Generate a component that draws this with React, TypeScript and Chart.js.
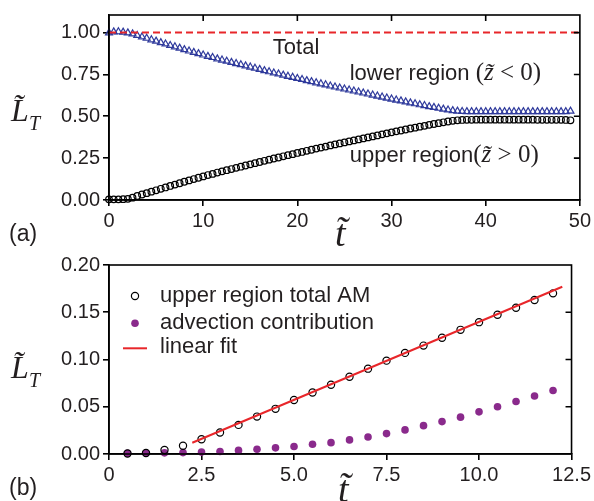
import React, { useEffect, useRef } from "react";
import { Chart, registerables } from "chart.js";
Chart.register(...registerables);

// ---------- Panel (a) data ----------
const tTop = [0,0.5,1,1.5,2,2.5,3,3.5,4,4.5,5,5.5,6,6.5,7,7.5,8,8.5,9,9.5,10,10.5,11,11.5,12,12.5,13,13.5,14,14.5,15,15.5,16,16.5,17,17.5,18,18.5,19,19.5,20,20.5,21,21.5,22,22.5,23,23.5,24,24.5,25,25.5,26,26.5,27,27.5,28,28.5,29,29.5,30,30.5,31,31.5,32,32.5,33,33.5,34,34.5,35,35.5,36,36.5,37,37.5,38,38.5,39,39.5,40,40.5,41,41.5,42,42.5,43,43.5,44,44.5,45,45.5,46,46.5,47,47.5,48,48.5,49];
const upperTop = [0.004,0.004,0.004,0.005,0.007,0.014,0.024,0.033,0.041,0.050,0.058,0.067,0.075,0.084,0.092,0.100,0.109,0.117,0.125,0.133,0.141,0.149,0.156,0.164,0.171,0.178,0.185,0.192,0.199,0.206,0.213,0.220,0.227,0.234,0.241,0.248,0.254,0.261,0.268,0.274,0.281,0.287,0.294,0.300,0.307,0.313,0.319,0.326,0.332,0.338,0.344,0.350,0.356,0.362,0.368,0.374,0.380,0.386,0.392,0.398,0.404,0.410,0.415,0.421,0.427,0.432,0.438,0.443,0.449,0.454,0.459,0.464,0.469,0.473,0.476,0.478,0.479,0.479,0.480,0.480,0.480,0.480,0.480,0.480,0.480,0.480,0.480,0.480,0.480,0.480,0.480,0.479,0.479,0.479,0.479,0.479,0.479,0.478,0.476];
const lowerTop = [0.998,1.004,1.005,1.003,0.998,0.992,0.983,0.974,0.966,0.957,0.949,0.940,0.932,0.923,0.915,0.907,0.898,0.890,0.882,0.874,0.866,0.858,0.851,0.843,0.836,0.829,0.822,0.815,0.808,0.801,0.794,0.787,0.780,0.773,0.766,0.759,0.753,0.746,0.739,0.733,0.726,0.720,0.713,0.707,0.700,0.694,0.688,0.681,0.675,0.669,0.663,0.657,0.651,0.645,0.639,0.633,0.627,0.621,0.615,0.609,0.603,0.597,0.592,0.586,0.580,0.575,0.569,0.564,0.558,0.553,0.548,0.543,0.538,0.534,0.531,0.529,0.528,0.528,0.528,0.528,0.528,0.528,0.528,0.528,0.528,0.528,0.528,0.528,0.528,0.528,0.528,0.528,0.528,0.528,0.528,0.528,0.528,0.528,0.531];
const totalT = [0, 50];
const totalV = [1, 1];
const xTicksTop = [0, 10, 20, 30, 40, 50];
const yTicksTop = [0, 0.25, 0.5, 0.75, 1.0];

// ---------- Panel (b) data ----------
const tBottom = [0.5,1,1.5,2,2.5,3,3.5,4,4.5,5,5.5,6,6.5,7,7.5,8,8.5,9,9.5,10,10.5,11,11.5,12];
const upperBottom = [0.0005,0.001,0.0042,0.0088,0.0156,0.0228,0.0308,0.0396,0.0478,0.0572,0.065,0.0733,0.0818,0.0903,0.0988,0.107,0.1147,0.123,0.1314,0.1395,0.1473,0.1548,0.1629,0.170];
const advBottom = [0.0007,0.001,0.0012,0.0015,0.002,0.0027,0.0038,0.005,0.0065,0.008,0.0103,0.012,0.0149,0.018,0.0216,0.0255,0.030,0.0343,0.039,0.0446,0.050,0.0556,0.0613,0.0672];
const fitT = [2.25, 12.25];
const fitV = [0.0119, 0.177];
const xTicksBottom = [0, 2.5, 5, 7.5, 10, 12.5];
const yTicksBottom = [0, 0.05, 0.1, 0.15, 0.2];

const legendLabels = ["upper region total AM", "advection contribution", "linear fit"];

const SANS = "'Liberation Sans', Arial, sans-serif";
const SERIF = "'Liberation Serif', 'Times New Roman', serif";
const RED = "#e8262a";
const BLUE = "#2f3a9c";
const PURPLE = "#8a2a8c";
const TXT = "#231f20";

type Run = { text: string; font: string; dy?: number };
function drawRuns(ctx: CanvasRenderingContext2D, x: number, y: number, runs: Run[]) {
  let cx = x;
  for (const r of runs) {
    ctx.font = r.font;
    ctx.fillText(r.text, cx, y + (r.dy || 0));
    cx += ctx.measureText(r.text).width;
  }
}

function frameAndTicks(topTicks: boolean) {
  return {
    id: "frameTicks",
    afterDraw(chart: any) {
      const { ctx, chartArea: a, scales } = chart;
      ctx.save();
      ctx.strokeStyle = "#000";
      ctx.lineWidth = 1.6;
      ctx.strokeRect(a.left, a.top, a.right - a.left, a.bottom - a.top);
      ctx.beginPath();
      const yt = scales.y.ticks;
      for (const t of yt) {
        const py = scales.y.getPixelForValue(t.value);
        if (Math.abs(py - a.bottom) < 1 || Math.abs(py - a.top) < 1) continue;
        ctx.moveTo(a.right, py);
        ctx.lineTo(a.right - 6, py);
      }
      if (topTicks) {
        for (const t of scales.x.ticks) {
          const px = scales.x.getPixelForValue(t.value);
          if (Math.abs(px - a.left) < 1 || Math.abs(px - a.right) < 1) continue;
          ctx.moveTo(px, a.top);
          ctx.lineTo(px, a.top + 6);
        }
      }
      ctx.stroke();
      ctx.restore();
    },
  };
}

const textTop = {
  id: "textTop",
  afterDraw(chart: any) {
    const { ctx, scales } = chart;
    const X = (v: number) => scales.x.getPixelForValue(v);
    const Y = (v: number) => scales.y.getPixelForValue(v);
    ctx.save();
    ctx.fillStyle = TXT;
    ctx.textBaseline = "alphabetic";
    ctx.textAlign = "left";
    ctx.font = `22px ${SANS}`;
    ctx.fillText("Total", X(17.4), Y(0.871));
    drawRuns(ctx, X(25.56), Y(0.717), [
      { text: "lower region ", font: `22px ${SANS}` },
      { text: "(", font: `25px ${SERIF}` },
      { text: "z\u0303", font: `italic 25px ${SERIF}` },
      { text: " < 0)", font: `25px ${SERIF}` },
    ]);
    drawRuns(ctx, X(25.56), Y(0.228), [
      { text: "upper region", font: `22px ${SANS}` },
      { text: "(", font: `25px ${SERIF}` },
      { text: "z\u0303", font: `italic 25px ${SERIF}` },
      { text: " > 0)", font: `25px ${SERIF}` },
    ]);
    // axis titles and panel label
    ctx.font = `italic 32px ${SERIF}`;
    ctx.fillText("L\u0303", 11, 121);
    ctx.font = `italic 20px ${SERIF}`;
    ctx.fillText("T", 29, 130);
    ctx.font = `italic 38px ${SERIF}`;
    ctx.fillText("t\u0303", 335, 246);
    ctx.font = `23px ${SANS}`;
    ctx.fillText("(a)", 9, 241);
    ctx.restore();
  },
};

const textBottom = {
  id: "textBottom",
  afterDraw(chart: any) {
    const { ctx } = chart;
    ctx.save();
    ctx.fillStyle = TXT;
    ctx.textAlign = "left";
    ctx.textBaseline = "alphabetic";
    // legend (canvas y = page y - 250)
    ctx.strokeStyle = "#000";
    ctx.lineWidth = 1.2;
    ctx.beginPath();
    ctx.arc(135, 46, 3.6, 0, Math.PI * 2);
    ctx.stroke();
    ctx.fillStyle = PURPLE;
    ctx.beginPath();
    ctx.arc(135, 73.3, 3.8, 0, Math.PI * 2);
    ctx.fill();
    ctx.strokeStyle = RED;
    ctx.lineWidth = 2;
    ctx.beginPath();
    ctx.moveTo(123, 98.3);
    ctx.lineTo(147, 98.3);
    ctx.stroke();
    ctx.fillStyle = TXT;
    ctx.font = `22px ${SANS}`;
    ctx.fillText(legendLabels[0], 160, 51.7);
    ctx.fillText(legendLabels[1], 160, 79);
    ctx.fillText(legendLabels[2], 160, 103.3);
    ctx.font = `italic 32px ${SERIF}`;
    ctx.fillText("L\u0303", 11, 128);
    ctx.font = `italic 20px ${SERIF}`;
    ctx.fillText("T", 29, 137);
    ctx.font = `italic 38px ${SERIF}`;
    ctx.fillText("t\u0303", 338, 252);
    ctx.font = `23px ${SANS}`;
    ctx.fillText("(b)", 9, 245);
    ctx.restore();
  },
};

function axisCommon(ticksArr: number[], fmt: (v: number) => string) {
  return {
    type: "linear" as const,
    afterBuildTicks: (s: any) => {
      s.ticks = ticksArr.map((v) => ({ value: v }));
    },
    grid: { drawOnChartArea: false, drawTicks: true, tickLength: 6, color: "#000", lineWidth: 1.6 },
    border: { display: true, color: "#000", width: 1.6 },
    ticks: {
      color: TXT,
      font: { family: SANS, size: 20 },
      padding: 3,
      maxRotation: 0,
      autoSkip: false,
      callback: (v: any) => fmt(Number(v)),
    },
  };
}

const pts = (xs: number[], ys: number[]) => xs.map((x, i) => ({ x, y: ys[i] }));

export default function App() {
  const topRef = useRef<HTMLCanvasElement>(null);
  const botRef = useRef<HTMLCanvasElement>(null);

  useEffect(() => {
    const top = new Chart(topRef.current!, {
      type: "scatter",
      data: {
        datasets: [
          {
            label: "Total",
            data: pts(totalT, totalV),
            showLine: true,
            borderColor: RED,
            borderWidth: 2,
            borderDash: [7, 4],
            pointRadius: 0,
          },
          {
            label: "lower",
            data: pts(tTop, lowerTop),
            pointStyle: "triangle",
            pointRadius: 4,
            pointBorderWidth: 1.2,
            pointBorderColor: BLUE,
            pointBackgroundColor: "rgba(0,0,0,0)",
            clip: false as any,
          },
          {
            label: "upper",
            data: pts(tTop, upperTop),
            pointStyle: "circle",
            pointRadius: 3.3,
            pointBorderWidth: 1.2,
            pointBorderColor: "#000",
            pointBackgroundColor: "rgba(0,0,0,0)",
            clip: false as any,
          },
        ],
      },
      options: {
        responsive: false,
        animation: false,
        events: [],
        layout: { padding: { top: 11, right: 14, left: 0, bottom: 0 } },
        plugins: { legend: { display: false }, tooltip: { enabled: false } },
        scales: {
          x: {
            ...axisCommon(xTicksTop, (v) => String(v)),
            min: 0,
            max: 50,
            afterFit: (s: any) => {
              s.height = 50;
            },
          },
          y: {
            ...axisCommon(yTicksTop, (v) => v.toFixed(2)),
            min: 0,
            max: 1.105,
            afterFit: (s: any) => {
              s.width = 109;
            },
          },
        },
      },
      plugins: [frameAndTicks(true), textTop],
    });

    const bot = new Chart(botRef.current!, {
      type: "scatter",
      data: {
        datasets: [
          {
            label: legendLabels[2],
            data: pts(fitT, fitV),
            showLine: true,
            borderColor: RED,
            borderWidth: 2,
            pointRadius: 0,
          },
          {
            label: legendLabels[0],
            data: pts(tBottom, upperBottom),
            pointStyle: "circle",
            pointRadius: 3.6,
            pointBorderWidth: 1.2,
            pointBorderColor: "#000",
            pointBackgroundColor: "rgba(0,0,0,0)",
            clip: false as any,
          },
          {
            label: legendLabels[1],
            data: pts(tBottom, advBottom),
            pointStyle: "circle",
            pointRadius: 3.8,
            pointBorderWidth: 0,
            pointBackgroundColor: PURPLE,
            clip: false as any,
          },
        ],
      },
      options: {
        responsive: false,
        animation: false,
        events: [],
        layout: { padding: { top: 15, right: 13, left: 0, bottom: 0 } },
        plugins: { legend: { display: false }, tooltip: { enabled: false } },
        scales: {
          x: {
            ...axisCommon(xTicksBottom, (v) => (v === 0 ? "0" : v.toFixed(1))),
            min: 0,
            max: 12.5,
            afterFit: (s: any) => {
              s.height = 47;
            },
          },
          y: {
            ...axisCommon(yTicksBottom, (v) => v.toFixed(2)),
            min: 0,
            max: 0.2,
            afterFit: (s: any) => {
              s.width = 109;
            },
          },
        },
      },
      plugins: [frameAndTicks(false), textBottom],
    });

    return () => {
      top.destroy();
      bot.destroy();
    };
  }, []);

  return (
    <div style={{ position: "absolute", left: 0, top: 0, width: 594, height: 501, background: "#fff" }}>
      <canvas ref={topRef} width={594} height={250} style={{ position: "absolute", left: 0, top: 0 }} />
      <canvas ref={botRef} width={594} height={251} style={{ position: "absolute", left: 0, top: 250 }} />
    </div>
  );
}
